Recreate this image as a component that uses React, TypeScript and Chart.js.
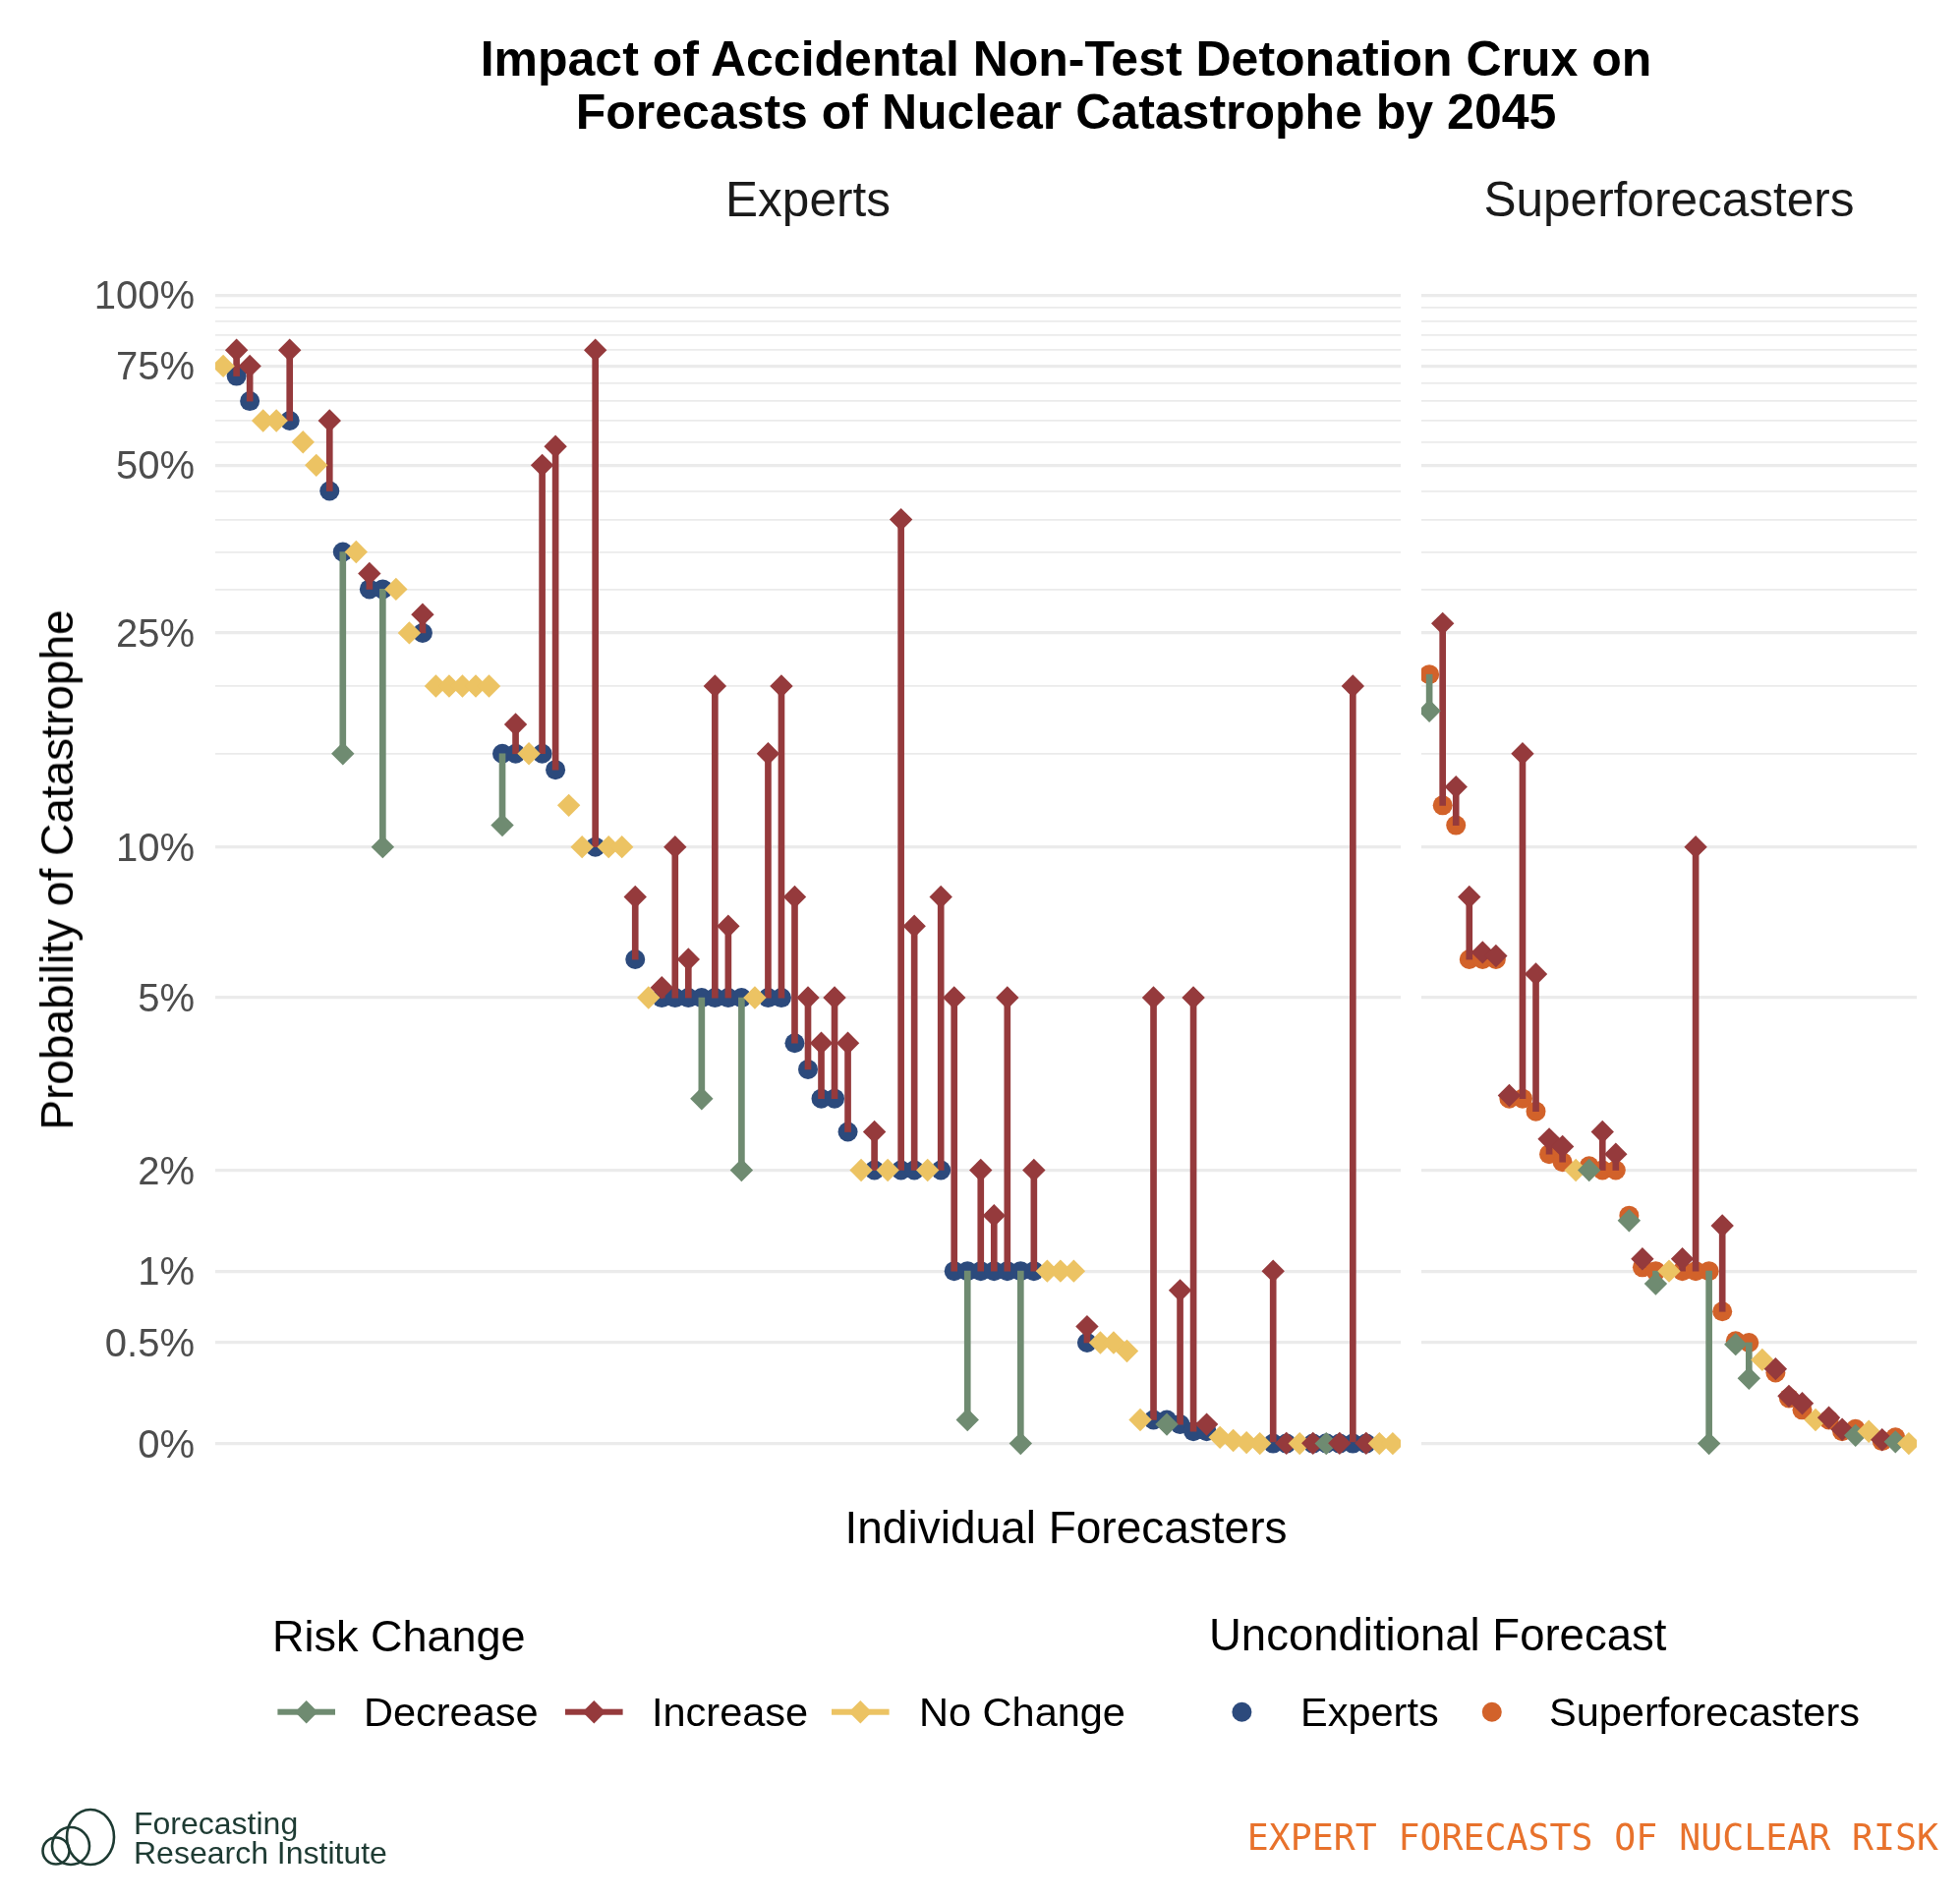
import React, { useEffect, useRef } from 'react';
import { Chart, registerables } from 'chart.js';

Chart.register(...registerables);

// Probabilities in percent, one entry per forecaster, in plotting order.
const EXPERT_UNCONDITIONAL = [
  75, 72, 65, 60, 60, 60, 55, 50, 45, 35,
  35, 30, 30, 30, 25, 25, 20, 20, 20, 20,
  20, 15, 15, 15, 15, 14, 12, 10, 10, 10,
  10, 6, 5, 5, 5, 5, 5, 5, 5, 5,
  5, 5, 5, 4, 3.5, 3, 3, 2.5, 2, 2,
  2, 2, 2, 2, 2, 1, 1, 1, 1, 1,
  1, 1, 1, 1, 1, 0.5, 0.5, 0.5, 0.45, 0.1,
  0.1, 0.1, 0.08, 0.05, 0.05, 0.025, 0.012, 0.004, 0, 0,
  0, 0, 0, 0.001, 0, 0, 0, 0, 0,
];
const EXPERT_CONDITIONAL = [
  75, 80, 75, 60, 60, 80, 55, 50, 60, 15,
  35, 32, 10, 30, 25, 27, 20, 20, 20, 20,
  20, 11, 17, 15, 50, 54, 12, 10, 80, 10,
  10, 8, 5, 5.25, 10, 6, 3, 20, 7, 2,
  5, 15, 20, 8, 5, 4, 5, 4, 2, 2.5,
  2, 40, 7, 2, 8, 5, 0.1, 2, 1.5, 5,
  0, 2, 1, 1, 1, 0.6, 0.5, 0.5, 0.45, 0.1,
  5, 0.08, 0.85, 5, 0.08, 0.025, 0.012, 0.004, 0, 1,
  0.001, 0, 0.001, 0, 0.001, 20, 0.001, 0, 0,
];
const SUPER_UNCONDITIONAL = [
  21, 12, 11, 6, 6, 6, 3, 3, 2.8, 2.2,
  2.1, 2, 2.05, 2, 2, 1.5, 1.03, 1, 1, 1,
  1, 1, 0.7, 0.51, 0.5, 0.4, 0.33, 0.2, 0.145, 0.1,
  0.1, 0.05, 0.06, 0.05, 0.01, 0.025, 0,
];
const SUPER_CONDITIONAL = [
  18, 26, 13, 8, 6.2, 6.1, 3.05, 15, 5.6, 2.4,
  2.3, 2, 2, 2.5, 2.2, 1.45, 1.1, 0.9, 1, 1.1,
  10, 0, 1.4, 0.49, 0.3, 0.4, 0.35, 0.21, 0.175, 0.1,
  0.11, 0.058, 0.033, 0.05, 0.015, 0.007, 0,
];

const MAJOR_TICKS = [0, 0.5, 1, 2, 5, 10, 25, 50, 75, 100];
const MINOR_TICKS = [15, 20, 30, 35, 40, 45, 55, 60, 65, 70, 80, 85, 90, 95];
const RISK_CHANGE_LABELS = ['Decrease', 'Increase', 'No Change'];
const FORECASTER_GROUPS = ['Experts', 'Superforecasters'];

const RISK_COLORS: Record<string, string> = {
  Decrease: '#6F8B71',
  Increase: '#953A3C',
  'No Change': '#ECC363',
};
const GROUP_COLORS: Record<string, string> = {
  Experts: '#2C4A7C',
  Superforecasters: '#D2622A',
};

const W = 1994;
const H = 1933;
const PANEL_TOP = 242;
const PANEL_BOTTOM = 1527;
const FONT = "'Liberation Sans', Arial, Helvetica, sans-serif";

// log(1 + p) keeps zero on the axis while spreading out the small values
const toScale = (p: number) => Math.log1p(p);
const SPAN = toScale(100) - toScale(0);
const Y_MIN = toScale(0) - 0.05 * SPAN;
const Y_MAX = toScale(100) + 0.05 * SPAN;
const GRID_VALUES = [...MAJOR_TICKS, ...MINOR_TICKS].sort((a, b) => a - b);

const riskChange = (u: number, c: number) =>
  c > u ? 'Increase' : c < u ? 'Decrease' : 'No Change';

const formatPct = (p: number) => `${p}%`;

function makePanel(
  canvas: HTMLCanvasElement,
  unconditional: number[],
  conditional: number[],
  dotColor: string,
  withLabels: boolean,
  left: number,
  right: number,
) {
  const n = unconditional.length;
  const changes = unconditional.map((u, i) => riskChange(u, conditional[i]));
  const moved = changes.map((c, i) => (c === 'No Change' ? -1 : i)).filter((i) => i >= 0);

  const segments = moved.map((i) => ({ x: i, y: [toScale(unconditional[i]), toScale(conditional[i])] }));
  const segmentColors = moved.map((i) => RISK_COLORS[changes[i]]);
  const dots = moved.map((i) => ({ x: i, y: toScale(unconditional[i]) }));
  const diamonds = conditional.map((c, i) => ({ x: i, y: toScale(c) }));
  const diamondColors = changes.map((c) => RISK_COLORS[c]);

  return new Chart(canvas, {
    type: 'scatter',
    data: {
      datasets: [
        {
          type: 'bar',
          data: segments as any,
          backgroundColor: segmentColors,
          borderWidth: 0,
          barThickness: 6,
          grouped: false,
          order: 2,
        } as any,
        {
          type: 'scatter',
          data: dots,
          pointStyle: 'circle',
          pointRadius: 10,
          backgroundColor: dotColor,
          borderWidth: 0,
          order: 3,
        },
        {
          type: 'scatter',
          data: diamonds,
          pointStyle: 'rectRot',
          pointRadius: 11.7,
          backgroundColor: diamondColors,
          borderWidth: 0,
          order: 1,
        },
      ],
    },
    options: {
      responsive: false,
      animation: false,
      devicePixelRatio: 1,
      events: [],
      layout: {
        padding: { left: withLabels ? 0 : left, right: W - right, top: PANEL_TOP, bottom: H - PANEL_BOTTOM },
      },
      plugins: {
        legend: { display: false },
        title: { display: false },
        tooltip: { enabled: false },
      },
      scales: {
        x: {
          type: 'linear',
          display: false,
          offset: false,
          grid: { offset: false },
          min: -0.6,
          max: n - 1 + 0.6,
        },
        y: {
          type: 'linear',
          min: Y_MIN,
          max: Y_MAX,
          beginAtZero: false,
          afterBuildTicks: (scale: any) => {
            scale.ticks = GRID_VALUES.map((p) => ({ value: toScale(p) }));
          },
          afterFit: (scale: any) => {
            scale.width = withLabels ? left : 0;
          },
          border: { display: false },
          grid: {
            color: '#EBEBEB',
            drawTicks: false,
            lineWidth: (ctx: any) => (MAJOR_TICKS.includes(GRID_VALUES[ctx.index]) ? 3.2 : 1.7),
          },
          ticks: {
            display: withLabels,
            autoSkip: false,
            padding: 21,
            labelOffset: 3,
            color: '#4D4D4D',
            font: { family: FONT, size: 40 },
            callback: (_v: any, i: number) =>
              MAJOR_TICKS.includes(GRID_VALUES[i]) ? formatPct(GRID_VALUES[i]) : '',
          },
        },
      },
    },
  } as any);
}

type TextProps = {
  x: number;
  baseline: number;
  size: number;
  weight?: number;
  align?: 'left' | 'center' | 'right';
  color?: string;
  family?: string;
  children: React.ReactNode;
};

function Label({ x, baseline, size, weight = 400, align = 'left', color = '#000', family = FONT, children }: TextProps) {
  const shift = align === 'center' ? 'translateX(-50%)' : align === 'right' ? 'translateX(-100%)' : 'none';
  return (
    <div
      style={{
        position: 'absolute',
        left: x,
        top: baseline - 0.8464 * size,
        fontFamily: family,
        fontSize: size,
        fontWeight: weight,
        lineHeight: `${size}px`,
        color,
        whiteSpace: 'nowrap',
        transform: shift,
      }}
    >
      {children}
    </div>
  );
}

const diamond = (cx: number, cy: number, r: number) =>
  `${cx - r},${cy} ${cx},${cy - r} ${cx + r},${cy} ${cx},${cy + r}`;

const RISK_KEY_X = [311.7, 604.3, 875.3];
const RISK_TEXT_X = [370, 663, 935];
const GROUP_KEY_X = [1263.4, 1517.8];
const GROUP_TEXT_X = [1323, 1576];
const KEY_Y = 1741.7;

export default function App() {
  const leftRef = useRef<HTMLCanvasElement>(null);
  const rightRef = useRef<HTMLCanvasElement>(null);

  useEffect(() => {
    const experts = makePanel(
      leftRef.current!, EXPERT_UNCONDITIONAL, EXPERT_CONDITIONAL, GROUP_COLORS.Experts, true, 219, 1425,
    );
    const supers = makePanel(
      rightRef.current!, SUPER_UNCONDITIONAL, SUPER_CONDITIONAL, GROUP_COLORS.Superforecasters, false, 1446, 1950,
    );
    return () => {
      experts.destroy();
      supers.destroy();
    };
  }, []);

  return (
    <div
      style={{
        position: 'absolute',
        left: 0,
        top: 0,
        width: W,
        height: H,
        background: '#fff',
        overflow: 'hidden',
        fontFamily: FONT,
      }}
    >
      <canvas ref={leftRef} width={W} height={H} style={{ position: 'absolute', left: 0, top: 0 }} />
      <canvas ref={rightRef} width={W} height={H} style={{ position: 'absolute', left: 0, top: 0 }} />

      <Label x={1084.5} baseline={77} size={50} weight={700} align="center">
        Impact of Accidental Non-Test Detonation Crux on
      </Label>
      <Label x={1084.5} baseline={131} size={50} weight={700} align="center">
        Forecasts of Nuclear Catastrophe by 2045
      </Label>

      <Label x={822} baseline={220} size={49.5} align="center" color="#1A1A1A">Experts</Label>
      <Label x={1698} baseline={220} size={49.5} align="center" color="#1A1A1A">Superforecasters</Label>

      <Label x={1084.5} baseline={1570} size={46} align="center">Individual Forecasters</Label>
      <div
        style={{
          position: 'absolute',
          left: 58,
          top: 884.5,
          fontSize: 46,
          lineHeight: '46px',
          whiteSpace: 'nowrap',
          color: '#000',
          transform: 'translate(-50%, -50%) rotate(-90deg)',
        }}
      >
        Probability of Catastrophe
      </div>

      <Label x={277} baseline={1680} size={45}>Risk Change</Label>
      <Label x={1230} baseline={1680} size={45.5}>Unconditional Forecast</Label>
      {RISK_CHANGE_LABELS.map((label, k) => (
        <Label key={label} x={RISK_TEXT_X[k]} baseline={1756} size={41.5}>{label}</Label>
      ))}
      {FORECASTER_GROUPS.map((label, k) => (
        <Label key={label} x={GROUP_TEXT_X[k]} baseline={1756} size={41.5}>{label}</Label>
      ))}

      <svg width={W} height={H} style={{ position: 'absolute', left: 0, top: 0, pointerEvents: 'none' }}>
        {RISK_CHANGE_LABELS.map((label, k) => (
          <g key={label} fill={RISK_COLORS[label]}>
            <rect x={RISK_KEY_X[k] - 29.3} y={KEY_Y - 3} width={58.6} height={6} />
            <polygon points={diamond(RISK_KEY_X[k], KEY_Y, 11.7)} />
          </g>
        ))}
        {FORECASTER_GROUPS.map((label, k) => (
          <circle key={label} cx={GROUP_KEY_X[k]} cy={KEY_Y} r={10} fill={GROUP_COLORS[label]} />
        ))}
        <g fill="none" stroke="#1E3B33" strokeWidth={2.6}>
          <ellipse cx={92} cy={1869} rx={24} ry={28} />
          <circle cx={72} cy={1878} r={19} />
          <circle cx={57} cy={1883} r={13.5} />
        </g>
      </svg>

      <Label x={136} baseline={1866} size={32} color="#1E3B33">Forecasting</Label>
      <Label x={136} baseline={1896} size={32} color="#1E3B33">Research Institute</Label>

      <Label
        x={1972}
        baseline={1883}
        size={36.5}
        align="right"
        color="#E8722C"
        family="'DejaVu Sans Mono', 'Liberation Mono', monospace"
      >
        EXPERT FORECASTS OF NUCLEAR RISK
      </Label>
    </div>
  );
}
